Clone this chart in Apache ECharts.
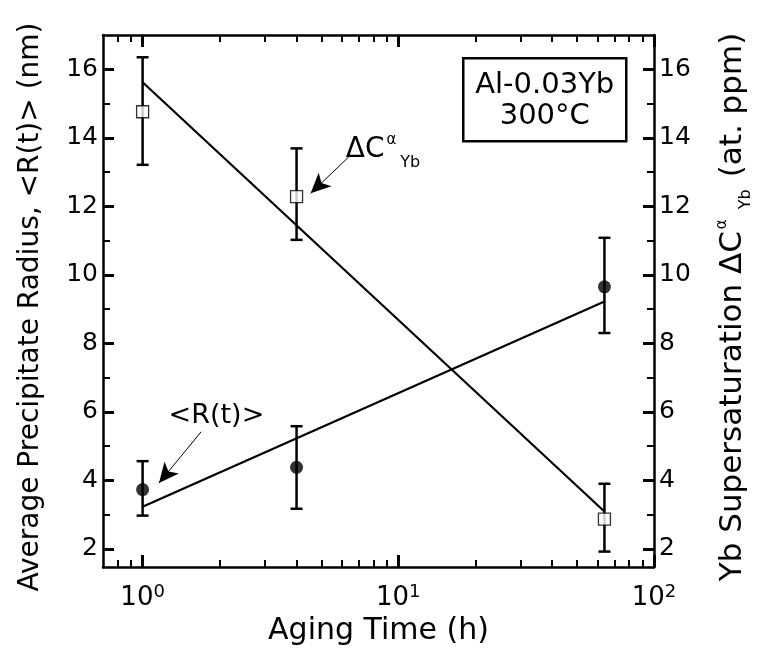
<!DOCTYPE html>
<html>
<head>
<meta charset="utf-8">
<script src="https://cdn.jsdelivr.net/npm/echarts@6/dist/echarts.min.js"></script>
<style>
html, body { margin: 0; padding: 0; background: #fff; }
#chart { width: 762px; height: 651px; }
</style>
</head>
<body>
<div id="chart"></div>
<script>
// Aging times (h) and measured values with error bar limits
const agingTime = [1, 4, 64];
const radius = [3.73, 4.38, 9.65];
const radiusLow = [2.97, 3.17, 8.30];
const radiusHigh = [4.56, 5.58, 11.08];
const superSat = [14.76, 12.28, 2.87];
const superSatLow = [13.21, 11.02, 1.92];
const superSatHigh = [16.35, 13.69, 3.90];

// Fitted trend lines (end points)
const fitTime = [1, 64];
const radiusFit = [3.23, 9.22];
const superSatFit = [15.62, 3.09];

// Tick positions
const xMajorTicks = [1, 10, 100];
const xMinorTicks = [0.8, 0.9, 2, 3, 4, 5, 6, 7, 8, 9, 20, 30, 40, 50, 60, 70, 80, 90];
const yMajorTicks = [2, 4, 6, 8, 10, 12, 14, 16];
const yMinorTicks = [3, 5, 7, 9, 11, 13, 15];

const FONT = 'DejaVu Sans';
const X_MIN = 0.7, X_MAX = 100, Y_MIN = 1.47, Y_MAX = 17;

function xAxisDef(position, major) {
  return {
    type: 'log', logBase: 10, min: X_MIN, max: X_MAX, position: position,
    axisLine: { show: major, lineStyle: { color: '#000', width: 2.5 } },
    axisTick: {
      show: true, inside: true, length: major ? 12 : 7,
      customValues: major ? xMajorTicks : xMinorTicks,
      lineStyle: { color: '#000', width: major ? 3 : 2 }
    },
    axisLabel: {
      show: major && position === 'bottom', customValues: xMajorTicks, margin: 16,
      formatter: v => '{b|10}{s|' + Math.round(Math.log10(v)) + '}',
      rich: {
        b: { fontFamily: FONT, fontSize: 26, color: '#000' },
        s: { fontFamily: FONT, fontSize: 18, color: '#000', verticalAlign: 'top', padding: [0, 0, 12, 0] }
      }
    },
    splitLine: { show: false },
    name: (major && position === 'bottom') ? 'Aging Time (h)' : '',
    nameLocation: 'middle', nameGap: 48,
    nameTextStyle: { fontFamily: FONT, fontSize: 30, color: '#000' }
  };
}

function yAxisDef(position, major, name, nameGap, nameSize, rich) {
  return {
    type: 'value', min: Y_MIN, max: Y_MAX, position: position,
    axisLine: { show: major, lineStyle: { color: '#000', width: 2.5 } },
    axisTick: {
      show: true, inside: true, length: major ? 11 : 7,
      customValues: major ? yMajorTicks : yMinorTicks,
      lineStyle: { color: '#000', width: major ? 3 : 2 }
    },
    axisLabel: {
      show: major, customValues: yMajorTicks, margin: 5,
      fontFamily: FONT, fontSize: 25, color: '#000'
    },
    splitLine: { show: false },
    name: major ? name : '',
    nameLocation: 'middle', nameGap: nameGap,
    nameTextStyle: {
      fontFamily: FONT, fontSize: nameSize, color: '#000',
      padding: [0, 12, 0, 0], rich: rich || {}
    }
  };
}

function errorBars(yAxisIndex, low, high) {
  return {
    type: 'custom', xAxisIndex: 0, yAxisIndex: yAxisIndex, z: 3,
    data: agingTime.map((t, i) => [t, low[i], high[i]]),
    encode: { x: 0, y: [1, 2] },
    renderItem: function (params, api) {
      const x = api.value(0);
      const lo = api.coord([x, api.value(1)]);
      const hi = api.coord([x, api.value(2)]);
      const w = 6;
      const st = { stroke: '#000', lineWidth: 2.5 };
      return {
        type: 'group',
        children: [
          { type: 'line', shape: { x1: lo[0], y1: lo[1], x2: hi[0], y2: hi[1] }, style: st },
          { type: 'line', shape: { x1: lo[0] - w, y1: lo[1], x2: lo[0] + w, y2: lo[1] }, style: st },
          { type: 'line', shape: { x1: hi[0] - w, y1: hi[1], x2: hi[0] + w, y2: hi[1] }, style: st }
        ]
      };
    }
  };
}

const rightTitleRich = {
  m: { fontFamily: FONT, fontSize: 31, color: '#000' },
  sup: { fontFamily: FONT, fontSize: 15, color: '#000', padding: [0, 6, 22, 2] },
  sub: { fontFamily: FONT, fontSize: 16, color: '#000', padding: [26, 12, 0, 4] }
};

const chart = echarts.init(document.getElementById('chart'), null, { renderer: 'canvas' });
chart.setOption({
  backgroundColor: '#fff',
  animation: false,
  grid: { left: 103, right: 105, top: 35, bottom: 84, containLabel: false },
  xAxis: [
    xAxisDef('bottom', true),
    xAxisDef('bottom', false),
    xAxisDef('top', true),
    xAxisDef('top', false)
  ],
  yAxis: [
    yAxisDef('left', true, 'Average Precipitate Radius, <R(t)> (nm)', 58, 28),
    yAxisDef('left', false, '', 0, 28),
    yAxisDef('right', true, '{m|Yb Supersaturation ΔC}{sup|α}{sub|Yb}{m|(at. ppm)}', 58, 31, rightTitleRich),
    yAxisDef('right', false, '', 0, 28)
  ],
  graphic: [{
    type: 'group', left: 462, top: 57,
    children: [
      { type: 'rect', shape: { x: 0, y: 0, width: 163, height: 83 },
        style: { fill: '#fff', stroke: '#000', lineWidth: 2.5 } },
      { type: 'text', x: 81.5, y: 27,
        style: { text: 'Al-0.03Yb', font: '29px "DejaVu Sans"', fill: '#000', align: 'center', verticalAlign: 'middle' } },
      { type: 'text', x: 81.5, y: 58,
        style: { text: '300°C', font: '29px "DejaVu Sans"', fill: '#000', align: 'center', verticalAlign: 'middle' } }
    ]
  }],
  series: [
    {
      name: 'radius fit', type: 'line', xAxisIndex: 0, yAxisIndex: 0, z: 2,
      data: fitTime.map((t, i) => [t, radiusFit[i]]),
      symbol: 'none', lineStyle: { color: '#000', width: 2.2 },
      markLine: {
        silent: true, symbol: ['none', 'arrow'], symbolSize: [14, 20],
        lineStyle: { color: '#000', width: 1, type: 'solid' },
        label: { show: false },
        data: [[{ coord: [1.695, 5.42] }, { coord: [1.159, 3.92] }]]
      },
      markPoint: {
        silent: true, symbol: 'circle', symbolSize: 0,
        data: [{ coord: [1.944, 5.88], value: 0 }],
        label: { show: true, position: 'inside', formatter: '<R(t)>', fontFamily: FONT, fontSize: 27, color: '#000' }
      }
    },
    {
      name: 'supersaturation fit', type: 'line', xAxisIndex: 0, yAxisIndex: 2, z: 2,
      data: fitTime.map((t, i) => [t, superSatFit[i]]),
      symbol: 'none', lineStyle: { color: '#000', width: 2.2 },
      markLine: {
        silent: true, symbol: ['none', 'arrow'], symbolSize: [14, 20],
        lineStyle: { color: '#000', width: 1, type: 'solid' },
        label: { show: false },
        data: [[{ coord: [6.40, 13.44] }, { coord: [4.54, 12.38] }]]
      },
      markPoint: {
        silent: true, symbol: 'circle', symbolSize: 0,
        data: [{ coord: [6.23, 13.65], value: 0 }],
        label: {
          show: true, position: 'right', distance: 0,
          formatter: '{m|ΔC}{sup|α}{sub|Yb}',
          rich: {
            m: { fontFamily: FONT, fontSize: 28, color: '#000' },
            sup: { fontFamily: FONT, fontSize: 15, color: '#000', padding: [0, 2, 20, 2] },
            sub: { fontFamily: FONT, fontSize: 16, color: '#000', padding: [26, 0, 0, 2] }
          }
        }
      }
    },
    errorBars(0, radiusLow, radiusHigh),
    errorBars(2, superSatLow, superSatHigh),
    {
      name: '<R(t)>', type: 'scatter', xAxisIndex: 0, yAxisIndex: 0, z: 5,
      data: agingTime.map((t, i) => [t, radius[i]]),
      symbol: 'circle', symbolSize: 13,
      itemStyle: { color: '#000' }
    },
    {
      name: 'ΔC', type: 'scatter', xAxisIndex: 0, yAxisIndex: 2, z: 5,
      data: agingTime.map((t, i) => [t, superSat[i]]),
      symbol: 'rect', symbolSize: 12,
      itemStyle: { color: '#fff', borderColor: '#000', borderWidth: 1.3 }
    }
  ]
});
</script>
</body>
</html>
